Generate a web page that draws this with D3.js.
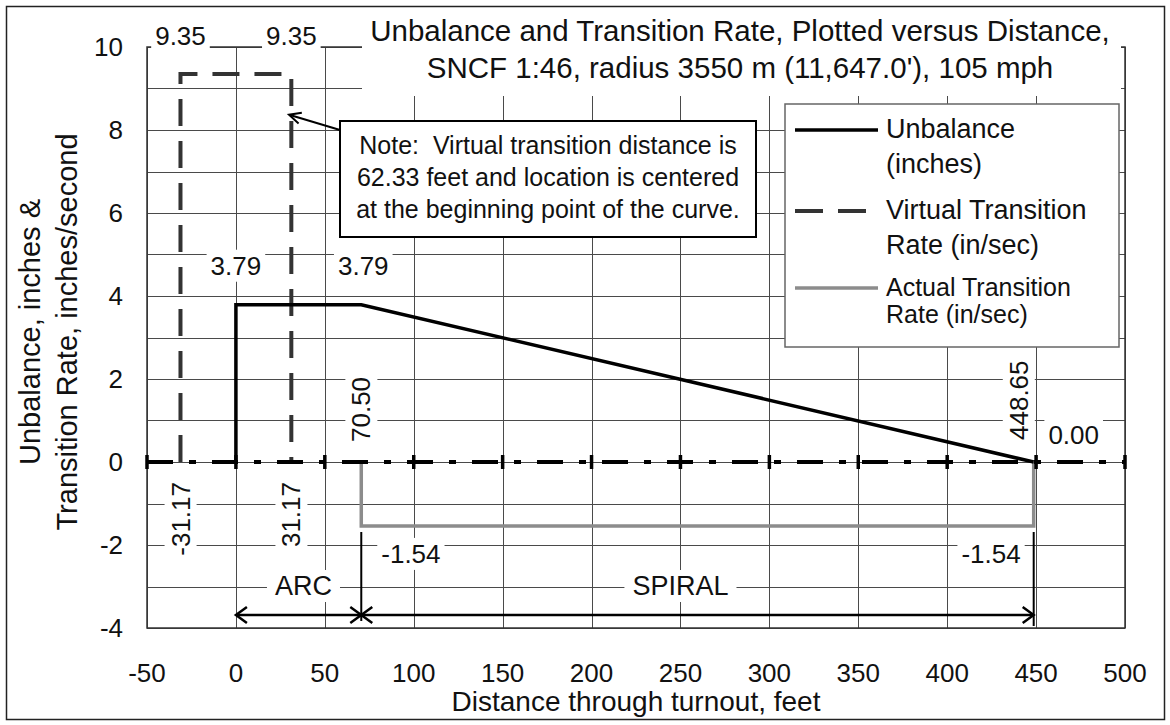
<!DOCTYPE html>
<html>
<head>
<meta charset="utf-8">
<script src="https://cdn.jsdelivr.net/npm/d3@7"></script>
<style>
  body { margin: 0; background: #fff; }
  svg text { font-family: Arial, 'Liberation Sans', sans-serif; fill: #111; white-space: pre; }
</style>
</head>
<body>
<div id="chart"></div>
<script>
// Data
var xTicks = [-50, 0, 50, 100, 150, 200, 250, 300, 350, 400, 450, 500];
var yTicks = [-4, -2, 0, 2, 4, 6, 8, 10];
var yGrid = [-4, -3, -2, -1, 0, 1, 2, 3, 4, 5, 6, 7, 8, 9, 10];

var unbalanceX = [0, 0, 70.5, 448.65];
var unbalanceY = [0, 3.79, 3.79, 0];
var virtualX = [-31.17, -31.17, 31.17, 31.17];
var virtualY = [0, 9.35, 9.35, 0];
var actualX = [70.5, 70.5, 448.65, 448.65];
var actualY = [0, -1.54, -1.54, 0];

var arcStart = 0, spiralStart = 70.5, spiralEnd = 448.65;

var titleLines = ["Unbalance and Transition Rate, Plotted versus Distance,",
                  "SNCF 1:46, radius 3550 m (11,647.0'), 105 mph"];
var noteLines = ["Note:  Virtual transition distance is",
                 "62.33 feet and location is centered",
                 "at the beginning point of the curve."];

var width = 1170, height = 725;
var plot = { left: 147, right: 1125, top: 47, bottom: 628 };

var svg = d3.select('#chart').append('svg')
    .attr('width', width)
    .attr('height', height);

var x = d3.scaleLinear().domain([-50, 500]).range([plot.left, plot.right]);
var y = d3.scaleLinear().domain([-4, 10]).range([plot.bottom, plot.top]);

// outer frame
svg.append('rect')
    .attr('x', 6.5).attr('y', 6.5)
    .attr('width', 1158).attr('height', 713)
    .attr('fill', 'none').attr('stroke', '#222').attr('stroke-width', 1.5);

// grid
var grid = svg.append('g');
grid.selectAll('.hg').data(yGrid).enter().append('line')
    .attr('x1', plot.left).attr('x2', plot.right)
    .attr('y1', d => Math.round(y(d)) + 0.5).attr('y2', d => Math.round(y(d)) + 0.5)
    .attr('stroke', '#4a4a4a').attr('stroke-width', 1);
grid.selectAll('.vg').data(xTicks).enter().append('line')
    .attr('y1', plot.top).attr('y2', plot.bottom)
    .attr('x1', d => Math.round(x(d)) + 0.5).attr('x2', d => Math.round(x(d)) + 0.5)
    .attr('stroke', '#4a4a4a').attr('stroke-width', 1);

// plot border
svg.append('rect')
    .attr('x', plot.left).attr('y', plot.top)
    .attr('width', plot.right - plot.left).attr('height', plot.bottom - plot.top)
    .attr('fill', 'none').attr('stroke', '#333').attr('stroke-width', 1.5);

// axis labels
svg.selectAll('.ytl').data(yTicks).enter().append('text')
    .attr('x', 123).attr('y', d => y(d)).attr('dy', '0.35em')
    .attr('text-anchor', 'end').style('font-size', '26px')
    .text(d => d);
svg.selectAll('.xtl').data(xTicks).enter().append('text')
    .attr('x', d => x(d)).attr('y', 682)
    .attr('text-anchor', 'middle').style('font-size', '26px')
    .text(d => d);
svg.append('text')
    .attr('x', (plot.left + plot.right) / 2).attr('y', 711)
    .attr('text-anchor', 'middle').style('font-size', '28px')
    .text('Distance through turnout, feet');
var yt = svg.append('g').attr('transform', 'translate(0,332) rotate(-90)');
yt.append('text').attr('x', 0).attr('y', 40).attr('text-anchor', 'middle')
    .style('font-size', '29px').text('Unbalance, inches &');
yt.append('text').attr('x', 0).attr('y', 77).attr('text-anchor', 'middle')
    .style('font-size', '29px').text('Transition Rate, inches/second');

// labels with white background
function label(text, px, py, o) {
    o = o || {};
    var g = svg.append('g')
        .attr('transform', 'translate(' + px + ',' + py + ')' + (o.rotate ? ' rotate(-90)' : ''));
    var t = g.append('text')
        .attr('text-anchor', o.anchor || 'middle')
        .attr('dy', o.dy || 0)
        .style('font-size', (o.size || 26) + 'px')
        .text(text);
    var b = t.node().getBBox();
    var p = o.pad == null ? 4 : o.pad;
    g.insert('rect', 'text')
        .attr('x', b.x - p).attr('y', b.y - 1)
        .attr('width', b.width + 2 * p).attr('height', b.height + 2)
        .attr('fill', '#fff');
    return g;
}

// title
var tg = svg.append('g');
tg.append('rect').attr('x', 362).attr('y', 9).attr('width', 759).attr('height', 87).attr('fill', '#fff');
titleLines.forEach(function (s, i) {
    tg.append('text').attr('x', 740).attr('y', 41 + i * 37)
        .attr('text-anchor', 'middle').style('font-size', '29.5px').text(s);
});

// series
var line = d3.line().x(d => x(d[0])).y(d => y(d[1]));

svg.append('path')
    .datum(virtualX.map((v, i) => [v, virtualY[i]]))
    .attr('d', line)
    .attr('fill', 'none').attr('stroke', '#333').attr('stroke-width', 4)
    .attr('stroke-dasharray', '27,15');

svg.append('path')
    .datum(actualX.map((v, i) => [v, actualY[i]]))
    .attr('d', line)
    .attr('fill', 'none').attr('stroke', '#8c8c8c').attr('stroke-width', 3.5);

svg.append('path')
    .datum(unbalanceX.map((v, i) => [v, unbalanceY[i]]))
    .attr('d', line)
    .attr('fill', 'none').attr('stroke', '#000').attr('stroke-width', 3.5);

// zero axis (dash-dot) with crossing ticks
svg.append('line')
    .attr('x1', x(-50)).attr('x2', x(500))
    .attr('y1', y(0)).attr('y2', y(0))
    .attr('stroke', '#000').attr('stroke-width', 4)
    .attr('stroke-dasharray', '26,16,7,16');
svg.selectAll('.tk').data(xTicks).enter().append('line')
    .attr('x1', d => x(d)).attr('x2', d => x(d))
    .attr('y1', y(0) - 7).attr('y2', y(0) + 7)
    .attr('stroke', '#000').attr('stroke-width', 3.5);

// point labels
label('9.35', x(virtualX[1]), y(virtualY[1]) - 29);
label('9.35', x(virtualX[2]), y(virtualY[2]) - 29);
label('3.79', x(unbalanceX[1]), y(unbalanceY[1]) - 30);
label('3.79', x(unbalanceX[2]) + 2, y(unbalanceY[2]) - 30);
label('70.50', x(spiralStart), y(0) - 20, { rotate: true, anchor: 'start', dy: '0.35em' });
label('448.65', x(spiralEnd) - 15, y(0) - 22, { rotate: true, anchor: 'start', dy: '0.35em' });
label('0.00', x(spiralEnd) + 40, y(0) - 18);
label('-31.17', x(virtualX[0]), y(0) + 20, { rotate: true, anchor: 'end', dy: '0.35em' });
label('31.17', x(virtualX[3]), y(0) + 20, { rotate: true, anchor: 'end', dy: '0.35em' });
label('-1.54', x(actualX[1]) + 20, y(actualY[1]) + 37, { anchor: 'start' });
label('-1.54', x(actualX[2]) - 13, y(actualY[2]) + 37, { anchor: 'end' });
label('ARC', x(38), 595, { size: 27, pad: 8 });
label('SPIRAL', x(250), 595, { size: 27, pad: 8 });

// dimension arrows
var arrowY = 615;
function chevron(px, py, dir) {
    svg.append('path')
        .attr('d', 'M' + (px - dir * 11) + ',' + (py - 8) + 'L' + px + ',' + py + 'L' + (px - dir * 11) + ',' + (py + 8))
        .attr('fill', 'none').attr('stroke', '#000').attr('stroke-width', 2.5);
}
svg.append('line').attr('x1', x(arcStart)).attr('x2', x(spiralEnd))
    .attr('y1', arrowY).attr('y2', arrowY)
    .attr('stroke', '#000').attr('stroke-width', 2.5);
chevron(x(arcStart), arrowY, -1);
chevron(x(spiralStart), arrowY, 1);
chevron(x(spiralStart), arrowY, -1);
chevron(x(spiralEnd), arrowY, 1);
svg.append('line').attr('x1', x(spiralStart)).attr('x2', x(spiralStart))
    .attr('y1', 532).attr('y2', 621).attr('stroke', '#000').attr('stroke-width', 2);
svg.append('line').attr('x1', x(spiralEnd)).attr('x2', x(spiralEnd))
    .attr('y1', 532).attr('y2', 626).attr('stroke', '#000').attr('stroke-width', 2);

// note box with pointer
svg.append('line').attr('x1', 340).attr('y1', 130).attr('x2', 290).attr('y2', 115)
    .attr('stroke', '#000').attr('stroke-width', 2);
(function () {
    var a = Math.atan2(130 - 115, 340 - 290);
    var tipX = 289, tipY = 114.7, L = 13, w = 0.45;
    svg.append('path')
        .attr('d', 'M' + (tipX + L * Math.cos(a - w)) + ',' + (tipY + L * Math.sin(a - w)) +
            'L' + tipX + ',' + tipY +
            'L' + (tipX + L * Math.cos(a + w)) + ',' + (tipY + L * Math.sin(a + w)))
        .attr('fill', 'none').attr('stroke', '#000').attr('stroke-width', 2);
})();
svg.append('rect').attr('x', 340).attr('y', 121).attr('width', 416).attr('height', 116)
    .attr('fill', '#fff').attr('stroke', '#000').attr('stroke-width', 2);
noteLines.forEach(function (s, i) {
    svg.append('text').attr('x', 548).attr('y', 154 + i * 32)
        .attr('text-anchor', 'middle').style('font-size', '25px').text(s);
});

// legend
var lg = svg.append('g');
lg.append('rect').attr('x', 785).attr('y', 104).attr('width', 334).attr('height', 243)
    .attr('fill', '#fff').attr('stroke', '#666').attr('stroke-width', 1.5);
lg.append('line').attr('x1', 795).attr('x2', 878).attr('y1', 130).attr('y2', 130)
    .attr('stroke', '#000').attr('stroke-width', 3.5);
lg.append('line').attr('x1', 795).attr('x2', 866).attr('y1', 211).attr('y2', 211)
    .attr('stroke', '#333').attr('stroke-width', 4).attr('stroke-dasharray', '28,15');
lg.append('line').attr('x1', 795).attr('x2', 878).attr('y1', 288).attr('y2', 288)
    .attr('stroke', '#8c8c8c').attr('stroke-width', 3.5);
var legendText = [
    ['Unbalance', 138, 27], ['(inches)', 173, 27],
    ['Virtual Transition', 219, 27], ['Rate (in/sec)', 254, 27],
    ['Actual Transition', 296, 25], ['Rate (in/sec)', 323, 25]
];
legendText.forEach(function (d) {
    lg.append('text').attr('x', 886).attr('y', d[1]).style('font-size', d[2] + 'px').text(d[0]);
});
</script>
</body>
</html>
